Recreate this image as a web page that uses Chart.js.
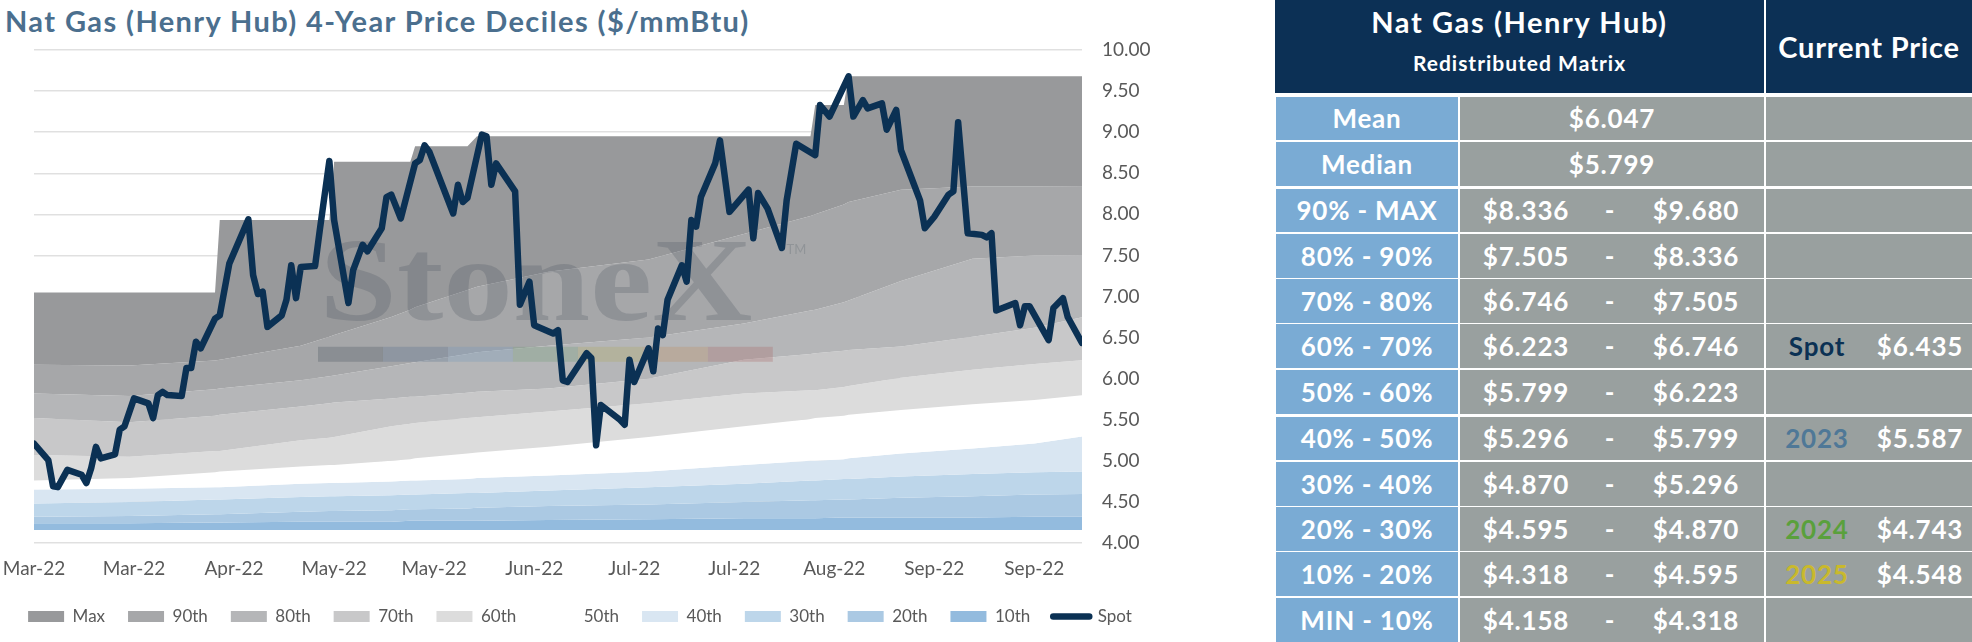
<!DOCTYPE html>
<html>
<head>
<meta charset="utf-8">
<script src="https://cdn.jsdelivr.net/npm/chart.js@4.4.0/dist/chart.umd.min.js"></script>
<style>
  html, body { margin: 0; padding: 0; background: #fff; }
  body { width: 1972px; height: 642px; position: relative; overflow: hidden; font-family: Lato, "Open Sans", sans-serif; }
  #title { position: absolute; left: 5px; top: 4px; line-height: 34px; font-size: 29px; letter-spacing: 1.4px; font-weight: 700; color: #4b6f8e; white-space: nowrap; }
  #chartBox { position: absolute; left: 0; top: 0; width: 1160px; height: 642px; }
  #matrix { position: absolute; left: 1275px; top: 0; width: 697px; height: 642px; color: #fff; font-weight: 700; }
  .head { display: flex; height: 93px; }
  .head .h1 { width: 489px; background: #0c3055; text-align: center; }
  .head .h1 .a { font-size: 29px; letter-spacing: 1.6px; line-height: 34px; padding-top: 5px; }
  .head .h1 .b { font-size: 21px; letter-spacing: 1px; line-height: 24px; padding-top: 12px; }
  .head .h2 { width: 206px; margin-left: 2px; background: #0c3055; font-size: 29px; letter-spacing: 0.8px; display: flex; align-items: center; justify-content: center; }
  .row { display: flex; height: 43.8px; margin-top: 1.5px; font-size: 26px; letter-spacing: 0.8px; }
  .row.first { margin-top: 3.5px; }
  .row.thick { margin-top: 3px; }
  .row > div { display: flex; align-items: center; }
  .lab { width: 182px; margin-left: 1px; background: #7aabd4; justify-content: center; }
  .val { width: 304px; margin-left: 2px; background: #99a09f; }
  .cur { width: 206px; margin-left: 2px; background: #99a09f; }
  .val span, .cur span { display: inline-block; text-align: center; }
</style>
</head>
<body>
<div id="title">Nat Gas (Henry Hub) 4-Year Price Deciles ($/mmBtu)</div>
<div id="chartBox"><canvas id="myChart" width="1160" height="642"></canvas></div>
<div id="matrix"></div>
<script>
// x values are calendar days counted from 1 Mar 2022, one label every 21 days
const xLabels = ['Mar-22', 'Mar-22', 'Apr-22', 'May-22', 'May-22', 'Jun-22', 'Jul-22', 'Jul-22', 'Aug-22', 'Sep-22', 'Sep-22'];
const tickStep = 21;
const lastDay = 220;
const yMin = 4, yMax = 10, yStep = 0.5;

// spot price
const spotDay = [0, 3, 4, 5, 7, 10, 11, 12, 13, 14, 17, 18, 19, 21, 24, 25, 26, 27, 28, 31,
  32, 33, 34, 35, 38, 39, 41, 45, 46, 47, 48, 49, 52, 53, 54, 55, 56, 59, 60, 62,
  63, 66, 67, 69, 70, 73, 74, 75, 77, 80, 81, 82, 83, 88, 89, 90, 91, 94, 95, 96,
  97, 101, 102, 104, 105, 109, 110, 111, 112, 116, 117, 118, 119, 123, 124, 125, 126, 129, 130, 131,
  132, 133, 136, 137, 138, 139, 140, 143, 144, 146, 150, 151, 152, 154, 157, 158, 160, 164, 165, 167,
  171, 172, 174, 175, 178, 179, 181, 182, 186, 187, 189, 192, 193, 194, 196, 199, 200, 201, 202, 206,
  207, 208, 209, 213, 214, 216, 217, 220];
const spotPrice = [5.21, 5.01, 4.69, 4.68, 4.89, 4.83, 4.73, 4.91, 5.17, 5.03, 5.08, 5.38, 5.42, 5.76, 5.70, 5.52, 5.80, 5.84, 5.80, 5.79,
  6.13, 6.13, 6.45, 6.37, 6.73, 6.77, 7.40, 7.94, 7.26, 7.03, 7.06, 6.63, 6.77, 6.96, 7.38, 6.98, 7.36, 7.37, 7.81, 8.65,
  7.93, 6.92, 7.32, 7.63, 7.55, 7.83, 8.21, 8.24, 7.95, 8.62, 8.66, 8.84, 8.76, 8.01, 8.36, 8.15, 8.20, 8.97, 8.95, 8.36,
  8.62, 8.28, 6.90, 7.18, 6.65, 6.55, 6.59, 5.98, 5.96, 6.31, 6.25, 5.19, 5.68, 5.50, 5.44, 6.23, 5.96, 6.37, 6.09, 6.61,
  6.53, 6.96, 7.38, 7.18, 7.93, 7.85, 8.21, 8.62, 8.90, 8.03, 8.30, 7.71, 8.26, 8.07, 7.59, 8.17, 8.86, 8.72, 9.33, 9.19,
  9.68, 9.19, 9.39, 9.29, 9.35, 9.03, 9.27, 8.78, 8.17, 7.83, 7.97, 8.24, 8.28, 9.12, 7.77, 7.75, 7.72, 7.77, 6.83, 6.92,
  6.65, 6.88, 6.88, 6.47, 6.86, 6.98, 6.75, 6.435];

// rolling 4-year deciles
const bandDay = [0, 20, 38, 39, 56, 62, 63, 75, 79, 80, 91, 93, 108, 129, 149, 163, 164, 170, 171, 182, 197, 210, 220];
const maxLine = [7.05, 7.05, 7.05, 7.93, 7.93, 7.93, 8.64, 8.64, 8.64, 8.83, 8.83, 8.95, 8.95, 8.95, 8.95, 8.95, 9.33, 9.33, 9.68, 9.68, 9.68, 9.68, 9.680];
const p90 = [6.17, 6.16, 6.22, 6.23, 6.40, 6.51, 6.53, 6.75, 6.84, 6.87, 7.08, 7.12, 7.30, 7.45, 7.76, 7.98, 8.00, 8.12, 8.15, 8.30, 8.34, 8.34, 8.336];
const p80 = [5.82, 5.79, 5.87, 5.88, 5.98, 6.03, 6.04, 6.15, 6.19, 6.20, 6.30, 6.32, 6.40, 6.50, 6.67, 6.83, 6.84, 6.93, 6.95, 7.19, 7.46, 7.50, 7.505];
const p70 = [5.52, 5.47, 5.55, 5.56, 5.66, 5.70, 5.71, 5.76, 5.78, 5.78, 5.83, 5.84, 5.88, 6.00, 6.23, 6.30, 6.31, 6.34, 6.35, 6.39, 6.51, 6.62, 6.746];
const p60 = [5.07, 5.05, 5.12, 5.12, 5.25, 5.28, 5.29, 5.42, 5.45, 5.46, 5.52, 5.53, 5.60, 5.70, 5.82, 5.86, 5.86, 5.90, 5.91, 6.01, 6.11, 6.18, 6.223];
const p50 = [4.76, 4.79, 4.86, 4.87, 4.93, 4.95, 4.95, 5.00, 5.02, 5.03, 5.09, 5.10, 5.17, 5.29, 5.42, 5.51, 5.52, 5.55, 5.56, 5.62, 5.69, 5.74, 5.799];
const p40 = [4.65, 4.66, 4.68, 4.68, 4.72, 4.73, 4.73, 4.75, 4.76, 4.76, 4.78, 4.79, 4.82, 4.87, 4.95, 5.00, 5.00, 5.02, 5.03, 5.09, 5.15, 5.21, 5.296];
const p30 = [4.48, 4.50, 4.53, 4.53, 4.56, 4.57, 4.57, 4.58, 4.59, 4.59, 4.61, 4.61, 4.64, 4.68, 4.72, 4.76, 4.76, 4.78, 4.78, 4.81, 4.84, 4.86, 4.870];
const p20 = [4.32, 4.33, 4.35, 4.35, 4.38, 4.39, 4.39, 4.40, 4.41, 4.41, 4.42, 4.43, 4.45, 4.47, 4.50, 4.52, 4.52, 4.53, 4.53, 4.55, 4.57, 4.59, 4.595];
const p10 = [4.24, 4.24, 4.25, 4.25, 4.26, 4.26, 4.26, 4.26, 4.27, 4.27, 4.27, 4.27, 4.28, 4.29, 4.30, 4.30, 4.30, 4.31, 4.31, 4.31, 4.31, 4.32, 4.318];
const minLine = [4.158, 4.158, 4.158, 4.158, 4.158, 4.158, 4.158, 4.158, 4.158, 4.158, 4.158, 4.158, 4.158, 4.158, 4.158, 4.158, 4.158, 4.158, 4.158, 4.158, 4.158, 4.158, 4.158];

const bandNames = ['Max', '90th', '80th', '70th', '60th', '50th', '40th', '30th', '20th', '10th'];
const bandColors = ['#98999b', '#a6a7a9', '#b5b6b8', '#c8c8c9', '#dcdcdc', '#ffffff', '#d9e6f2', '#bdd6ea', '#abc9e3', '#93bbde'];
const spotColor = '#0b3154';

// matrix table
const meanPrice = 6.047;
const rangeLabels = ['90% - MAX', '80% - 90%', '70% - 80%', '60% - 70%', '50% - 60%', '40% - 50%', '30% - 40%', '20% - 30%', '10% - 20%', 'MIN - 10%'];
const futureYears = ['2023', '2024', '2025'];
const futurePrices = [5.587, 4.743, 4.548];
const futureColors = ['#4f7897', '#5aa03c', '#c9b92c'];

const lines = [maxLine, p90, p80, p70, p60, p50, p40, p30, p20, p10, minLine];
const fontFam = 'Lato, "Open Sans", sans-serif';

// StoneX watermark behind the spot line
const watermark = {
  id: 'watermark',
  beforeDatasetDraw(chart, args) {
    if (args.index !== 0) return;
    const ctx = chart.ctx;
    const a = chart.chartArea;
    const w = a.right - a.left, h = a.bottom - a.top;
    const cx = a.left + w * 0.479, base = a.top + h * 0.548;
    ctx.save();
    ctx.fillStyle = 'rgba(70,80,90,0.24)';
    ctx.font = 'bold 128px "Liberation Serif", serif';
    const tw = ctx.measureText('StoneX').width;
    ctx.translate(cx, base);
    ctx.scale((w * 0.413) / tw, 0.92);
    ctx.textAlign = 'center';
    ctx.textBaseline = 'alphabetic';
    ctx.fillText('StoneX', 0, 0);
    ctx.restore();
    ctx.save();
    ctx.fillStyle = 'rgba(70,80,90,0.22)';
    ctx.font = '13px ' + fontFam;
    ctx.fillText('TM', a.left + w * 0.718, a.top + h * 0.405);
    const segs = ['#4a5560', '#55708e', '#7397bd', '#6f9a76', '#b0a860', '#c09060', '#a86868'];
    const x0 = a.left + w * 0.271, segW = w * 0.062, y0 = a.top + h * 0.602;
    segs.forEach((c, i) => {
      ctx.globalAlpha = 0.3;
      ctx.fillStyle = c;
      ctx.fillRect(x0 + i * segW, y0, segW, 15);
    });
    ctx.restore();
  }
};

const datasets = [{
  label: 'Spot',
  data: spotDay.map((d, i) => ({x: d, y: spotPrice[i]})),
  borderColor: spotColor,
  borderWidth: 6.5,
  borderJoinStyle: 'round',
  borderCapStyle: 'round',
  pointRadius: 0,
  fill: false
}];
lines.forEach((line, i) => {
  datasets.push({
    label: i < bandNames.length ? bandNames[i] : 'Min',
    data: bandDay.map((d, j) => ({x: d, y: line[j]})),
    borderColor: 'rgba(0,0,0,0)',
    borderWidth: 0,
    backgroundColor: i < bandColors.length ? bandColors[i] : 'rgba(0,0,0,0)',
    pointRadius: 0,
    fill: i < bandNames.length ? '+1' : false
  });
});

var ctx = document.getElementById('myChart');
new Chart(ctx, {
  type: 'line',
  data: { datasets: datasets },
  plugins: [watermark],
  options: {
    responsive: false,
    animation: false,
    layout: { padding: { top: 50, bottom: 7, left: 0, right: 0 } },
    scales: {
      x: {
        type: 'linear',
        min: 0,
        max: lastDay,
        grid: { display: false, drawTicks: false },
        border: { display: false },
        ticks: {
          color: '#595959',
          font: { size: 19, family: fontFam },
          padding: 14,
          maxRotation: 0,
          autoSkip: false,
          callback: (v, i) => xLabels[i]
        },
        afterBuildTicks: s => { s.ticks = xLabels.map((_, i) => ({ value: i * tickStep })); },
        afterFit: s => { s.height = 42; s.paddingLeft = 34; s.paddingRight = 0; }
      },
      y: {
        position: 'right',
        min: yMin,
        max: yMax,
        z: 1,
        grid: { color: 'rgba(0,0,0,0.12)', lineWidth: 1.5, drawTicks: false },
        border: { display: false },
        ticks: {
          stepSize: yStep,
          color: '#595959',
          font: { size: 19, family: fontFam },
          padding: 20,
          callback: v => v.toFixed(2)
        },
        afterFit: s => { s.width = 78; }
      }
    },
    plugins: {
      tooltip: { enabled: false },
      legend: {
        position: 'bottom',
        labels: {
          usePointStyle: true,
          pointStyleWidth: 36,
          boxHeight: 11,
          padding: 23,
          color: '#595959',
          font: { size: 17, family: fontFam },
          generateLabels: () => bandNames.map((name, i) => ({
            text: name, fillStyle: bandColors[i], strokeStyle: bandColors[i], lineWidth: 0,
            pointStyle: 'rect', fontColor: '#595959', datasetIndex: i + 1
          })).concat([{
            text: 'Spot', fillStyle: spotColor, strokeStyle: spotColor, lineWidth: 6.5,
            lineCap: 'round', pointStyle: 'line', fontColor: '#595959', datasetIndex: 0
          }])
        }
      }
    }
  }
});

// build the matrix from the last decile values
const breaks = lines.map(l => l[l.length - 1]);
const money = v => '$' + v.toFixed(3);
const current = [{ name: 'Spot', price: spotPrice[spotPrice.length - 1], color: spotColor }]
  .concat(futureYears.map((y, i) => ({ name: y, price: futurePrices[i], color: futureColors[i] })));

let html = '<div class="head"><div class="h1"><div class="a">Nat Gas (Henry Hub)</div>' +
  '<div class="b">Redistributed Matrix</div></div><div class="h2">Current Price</div></div>';
const single = (lab, v, cls) => '<div class="row ' + cls + '"><div class="lab">' + lab + '</div>' +
  '<div class="val" style="justify-content:center">' + money(v) + '</div><div class="cur"></div></div>';
html += single('Mean', meanPrice, 'first');
html += single('Median', p50[p50.length - 1], '');
rangeLabels.forEach((lab, i) => {
  const hi = breaks[i], lo = breaks[i + 1];
  const hit = current.find(c => c.price >= lo && c.price < hi);
  const cls = (i === 0 || i === 5) ? 'thick' : '';
  html += '<div class="row ' + cls + '"><div class="lab">' + lab + '</div><div class="val">' +
    '<span style="width:132px">' + money(lo) + '</span><span style="width:36px">-</span>' +
    '<span style="width:136px">' + money(hi) + '</span></div><div class="cur">' +
    (hit ? '<span style="width:102px;color:' + hit.color + '">' + hit.name + '</span>' +
      '<span style="width:104px">' + money(hit.price) + '</span>' : '') + '</div></div>';
});
document.getElementById('matrix').innerHTML = html;
</script>
</body>
</html>
